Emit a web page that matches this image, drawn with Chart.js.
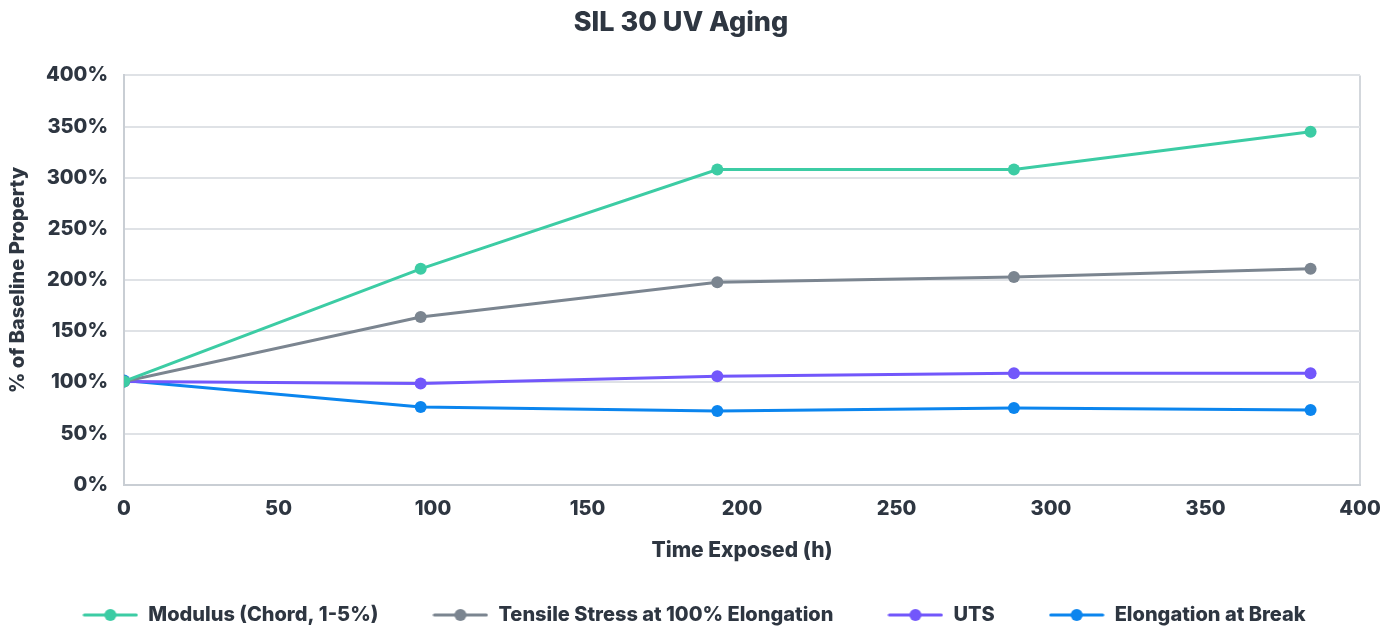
<!DOCTYPE html>
<html>
<head>
<meta charset="utf-8">
<script src="https://cdn.jsdelivr.net/npm/chart.js@4.4.1/dist/chart.umd.min.js"></script>
<style>
  html, body { margin: 0; padding: 0; background: #fff; }
  #wrap { width: 1398px; height: 629px; }
</style>
</head>
<body>
<div id="wrap"><canvas id="uvChart"></canvas></div>
<script>
// hours exposed
const hours = [0, 96, 192, 288, 384];

// % of baseline property
const modulus = [101, 211, 308, 308, 345];
const tensile100 = [101, 164, 198, 203, 211];
const uts = [101, 99, 106, 109, 109];
const elongation = [102, 76, 72, 75, 73];

const seriesNames = ['Modulus (Chord, 1-5%)', 'Tensile Stress at 100% Elongation', 'UTS', 'Elongation at Break'];
const seriesColors = ['#3ccca4', '#7b8590', '#7257fb', '#0b85ee'];
const seriesData = [modulus, tensile100, uts, elongation];

const textColor = '#2e3641';
Chart.defaults.font.family = 'Inter, "Open Sans", sans-serif';
Chart.defaults.font.weight = 800;
Chart.defaults.color = textColor;

// legend marker: short line with a dot in the middle
function legendMarker(color) {
    const c = document.createElement('canvas');
    c.width = 56;
    c.height = 14;
    const g = c.getContext('2d');
    g.strokeStyle = color;
    g.lineWidth = 3;
    g.lineCap = 'round';
    g.beginPath();
    g.moveTo(2, 7);
    g.lineTo(54, 7);
    g.stroke();
    g.fillStyle = color;
    g.beginPath();
    g.arc(28, 7, 6, 0, Math.PI * 2);
    g.fill();
    return c;
}

// the legend sits centred on the page, not on the padded chart box
const legendShift = {
    id: 'legendShift',
    afterLayout(chart) {
        const dx = 13;
        chart.legend.left += dx;
        chart.legend.right += dx;
        chart.legend.legendHitBoxes.forEach(b => { b.left += dx; });
    }
};

const datasets = seriesNames.map((name, i) => ({
    label: name,
    data: hours.map((h, j) => ({ x: h, y: seriesData[i][j] })),
    borderColor: seriesColors[i],
    backgroundColor: seriesColors[i],
    borderWidth: 3,
    pointRadius: 6,
    pointHoverRadius: 6,
    pointBorderWidth: 0,
    tension: 0
}));

new Chart(document.getElementById('uvChart'), {
    type: 'line',
    data: { datasets: datasets },
    plugins: [legendShift],
    options: {
        responsive: true,
        maintainAspectRatio: false,
        animation: false,
        layout: { padding: { left: 2, right: 38, top: 0, bottom: -6 } },
        plugins: {
            title: {
                display: true,
                text: 'SIL 30 UV Aging',
                font: { size: 27, weight: 800 },
                color: textColor,
                padding: { top: 7, bottom: 36 }
            },
            legend: {
                position: 'bottom',
                labels: {
                    usePointStyle: true,
                    pointStyleWidth: 56,
                    padding: 54,
                    font: { size: 20, weight: 800 },
                    color: textColor,
                    generateLabels: (chart) => chart.data.datasets.map((ds, i) => ({
                        text: ds.label,
                        pointStyle: legendMarker(ds.borderColor),
                        fillStyle: ds.borderColor,
                        strokeStyle: ds.borderColor,
                        lineWidth: 0,
                        fontColor: textColor,
                        datasetIndex: i,
                        hidden: false
                    }))
                }
            },
            tooltip: { enabled: false }
        },
        scales: {
            x: {
                type: 'linear',
                min: 0,
                max: 400,
                ticks: { stepSize: 50, font: { size: 20, weight: 800 }, color: textColor, padding: 12 },
                grid: {
                    drawTicks: false,
                    color: (ctx) => ctx.tick && ctx.tick.value === 400 ? '#d3d7dc' : 'rgba(0,0,0,0)',
                    lineWidth: 2
                },
                border: { color: '#c9ced4', width: 2 },
                title: {
                    display: true,
                    text: 'Time Exposed (h)',
                    font: { size: 21, weight: 800 },
                    color: textColor,
                    padding: { top: 5, bottom: -12 }
                }
            },
            y: {
                min: 0,
                max: 400,
                ticks: {
                    stepSize: 50,
                    font: { size: 20, weight: 800 },
                    color: textColor,
                    padding: 16,
                    callback: (v) => v + '%'
                },
                grid: { drawTicks: false, color: '#dfe2e6', lineWidth: 2 },
                border: { color: '#c9ced4', width: 2 },
                title: {
                    display: true,
                    text: '% of Baseline Property',
                    font: { size: 20, weight: 800 },
                    color: textColor,
                    padding: { bottom: 0 }
                }
            }
        }
    }
});
</script>
</body>
</html>
